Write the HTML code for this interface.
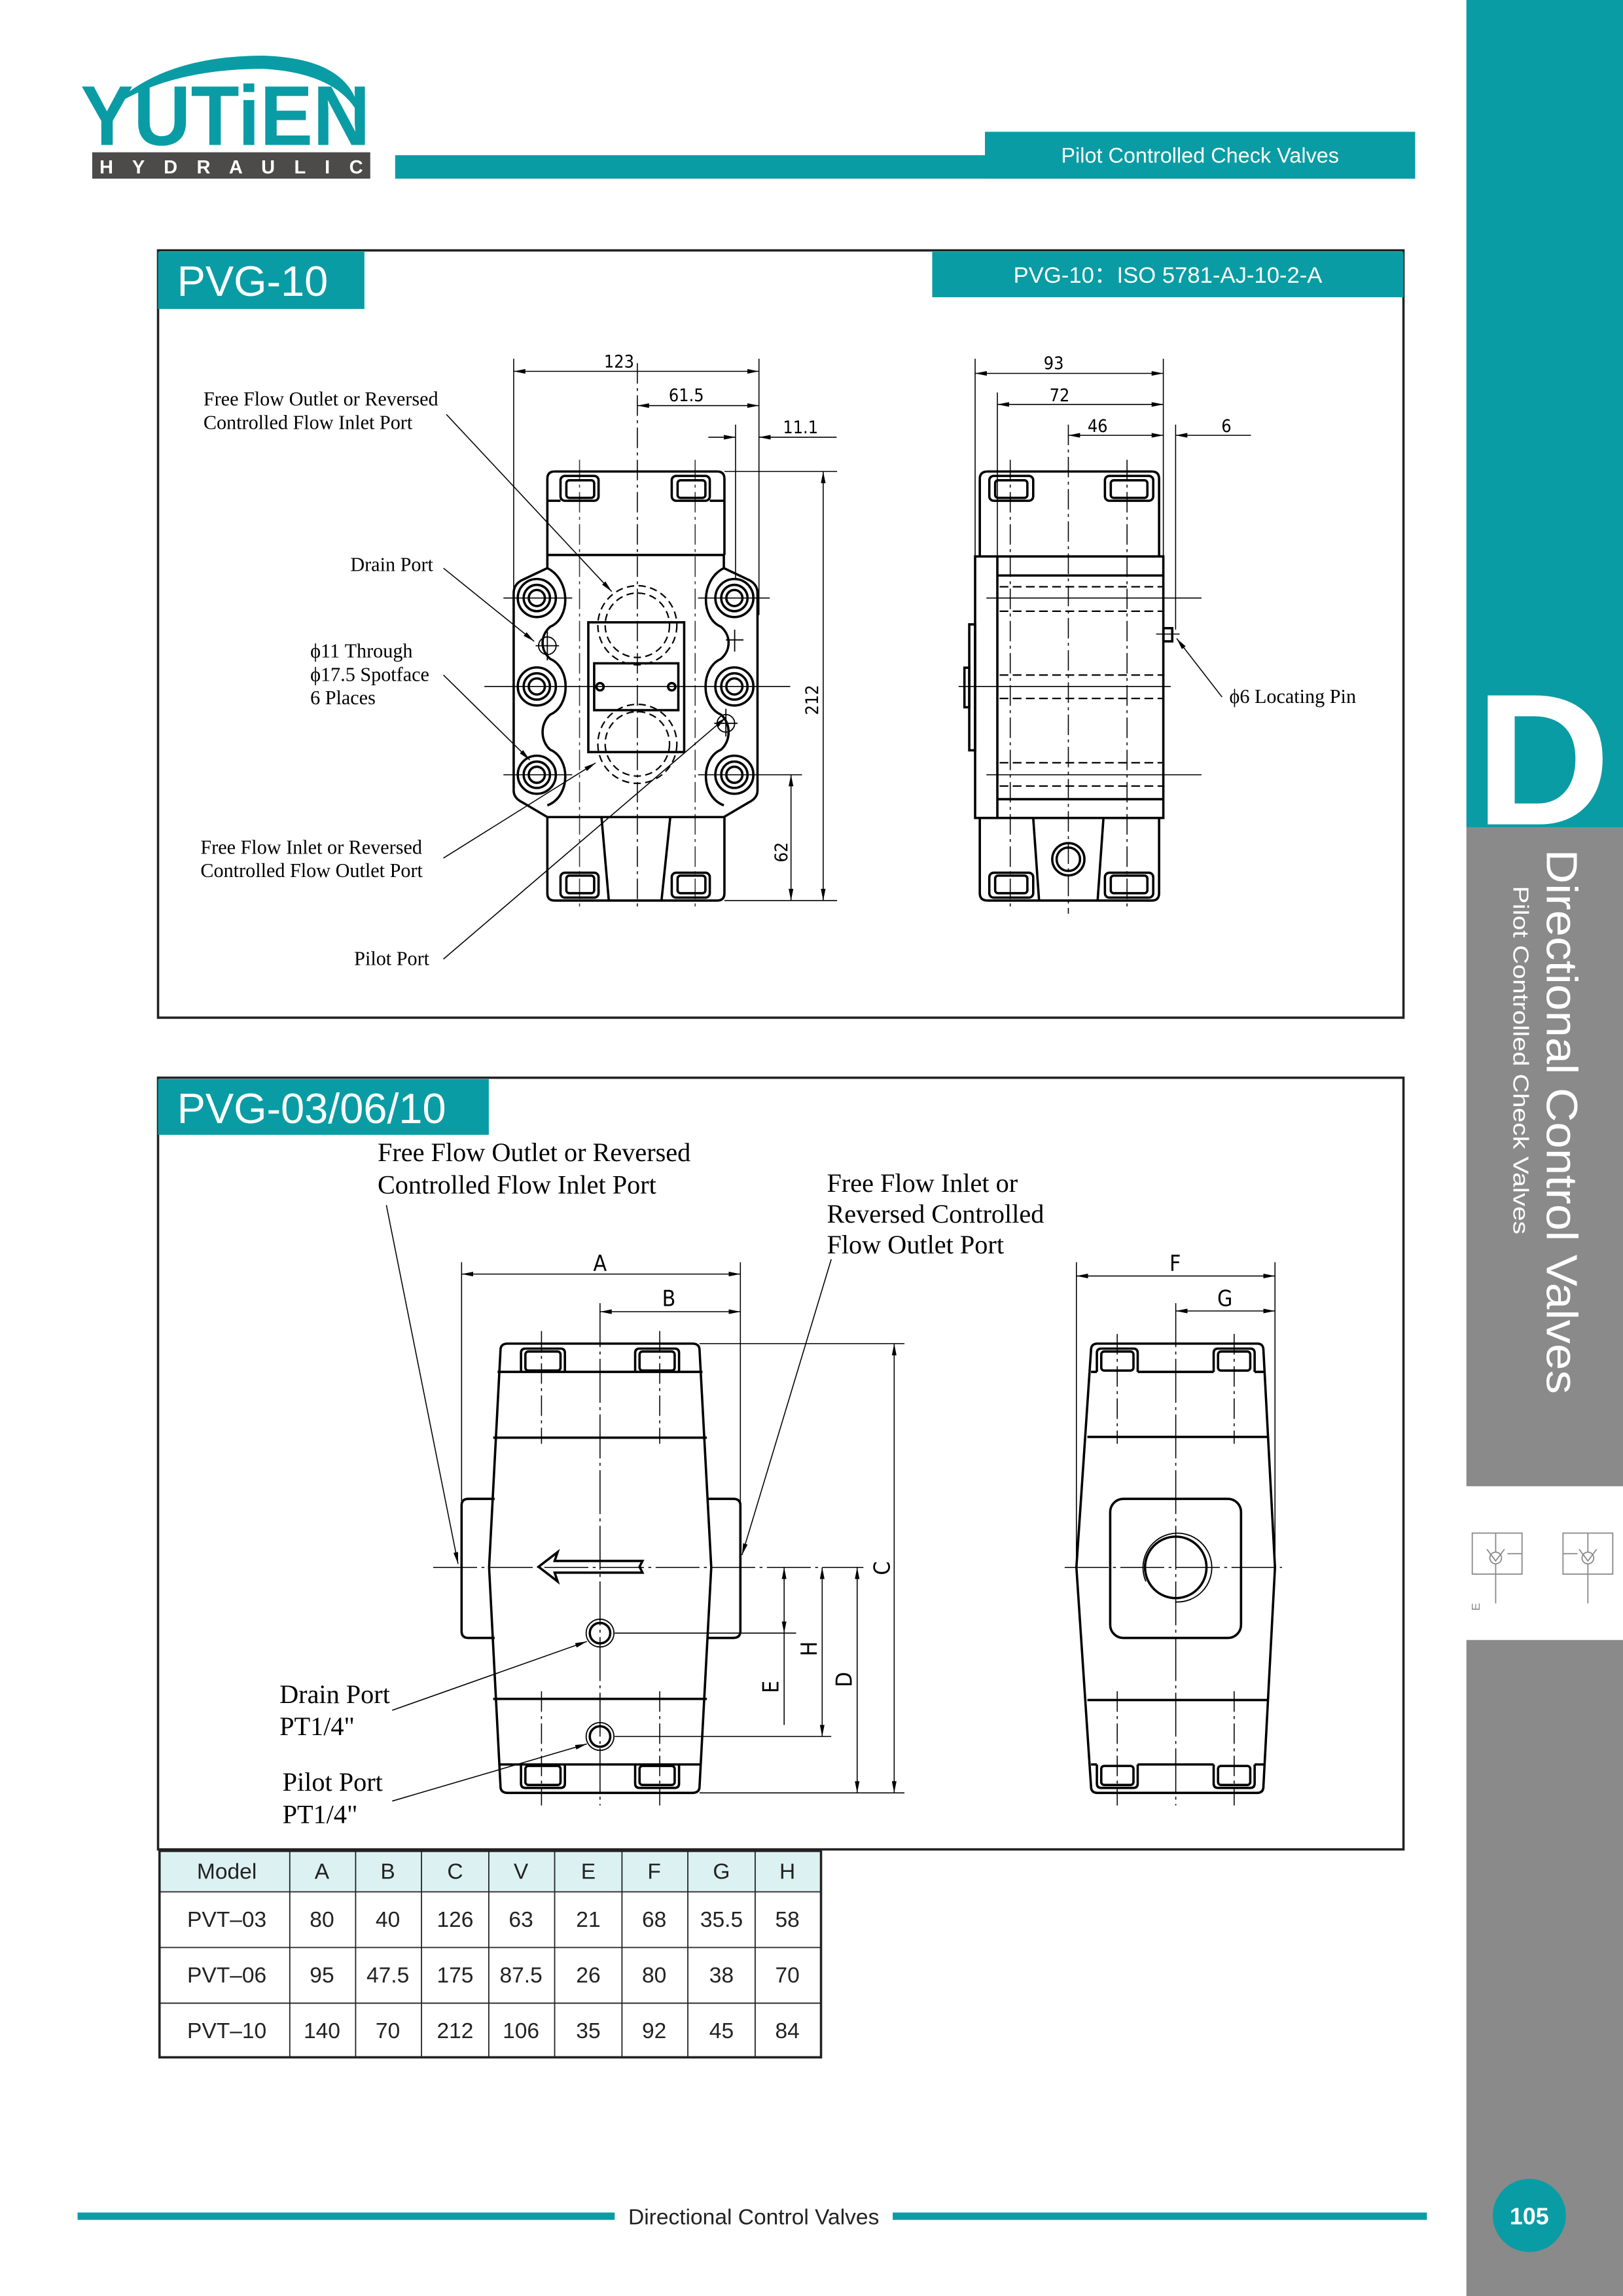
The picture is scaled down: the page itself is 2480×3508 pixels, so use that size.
<!DOCTYPE html>
<html><head><meta charset="utf-8"><style>
html,body{margin:0;padding:0;background:#fff}
svg{display:block}
.s{font-family:"Liberation Sans",sans-serif}
.r{font-family:"Liberation Serif",serif}
.d{font-family:"DejaVu Sans Condensed","DejaVu Sans",sans-serif}
</style></head><body>
<svg width="2480" height="3508" viewBox="0 0 1109 1568" preserveAspectRatio="none" xmlns="http://www.w3.org/2000/svg">
<defs>
<marker id="a" viewBox="0 0 10 4" refX="10" refY="2" markerWidth="8" markerHeight="3.2" markerUnits="userSpaceOnUse" orient="auto-start-reverse"><path d="M0,0 L10,2 L0,4Z" fill="#000"/></marker>
</defs>
<rect width="1109" height="1568" fill="#fff"/>
<!-- sidebar -->
<rect x="1002" y="0" width="107" height="565" fill="#0a9ca5"/>
<rect x="1002" y="565" width="107" height="450" fill="#8a8a8a"/>
<rect x="1002" y="1120" width="107" height="448" fill="#8a8a8a"/>
<text x="1008" y="563" class="s" font-size="128" font-weight="bold" fill="#fff">D</text>
<text class="s" font-size="30" fill="#fff" transform="translate(1057,580) rotate(90)" textLength="372" lengthAdjust="spacingAndGlyphs">Directional Control Valves</text>
<text class="s" font-size="15" fill="#fff" transform="translate(1034,605) rotate(90)" textLength="238" lengthAdjust="spacingAndGlyphs">Pilot Controlled Check Valves</text>
<g stroke="#888" stroke-width="0.8" fill="none">
<rect x="1006" y="1047" width="34" height="28"/><circle cx="1022" cy="1064" r="4"/><path d="M1016,1058 L1022,1066 L1028,1058 M1022,1047 V1060 M1022,1068 V1095 M1040,1061 H1030"/>
<rect x="1068" y="1047" width="34" height="28"/><circle cx="1085" cy="1064" r="4"/><path d="M1079,1058 L1085,1066 L1091,1058 M1085,1047 V1060 M1085,1068 V1095 M1068,1061 H1078"/>
</g>
<text class="s" font-size="8" fill="#888" transform="translate(1011,1100) rotate(-90)">E</text>
<!-- logo -->
<path d="M75,74 Q110,38 180,38 Q242,40 246,80 Q232,50 180,47 Q115,47 75,74Z" fill="#0a9ca5"/>
<text x="55" y="99" class="s" font-size="58" font-weight="bold" fill="#0a9ca5" textLength="198" lengthAdjust="spacingAndGlyphs">YUTiEN</text>
<rect x="63" y="104" width="190" height="18" fill="#4d4a4a"/>
<text x="68" y="118.5" class="s" font-size="13" font-weight="bold" fill="#fff" textLength="180" lengthAdjust="spacing">H Y D R A U L I C</text>
<!-- header bar -->
<rect x="270" y="106" width="697" height="16" fill="#0a9ca5"/>
<rect x="673" y="90" width="294" height="32" fill="#0a9ca5"/>
<text x="820" y="111" class="s" font-size="14.5" fill="#fff" text-anchor="middle">Pilot Controlled Check Valves</text>
<!-- box 1 -->
<rect x="108" y="171" width="851" height="524" fill="none" stroke="#222" stroke-width="1.6"/>
<rect x="108" y="172" width="141" height="39" fill="#0a9ca5"/>
<text x="121" y="202" class="s" font-size="29" fill="#fff">PVG-10</text>
<rect x="637" y="172" width="322" height="31" fill="#0a9ca5"/>
<text x="798" y="193" class="s" font-size="15.5" fill="#fff" text-anchor="middle">PVG-10：ISO 5781-AJ-10-2-A</text>
<!-- box 2 -->
<rect x="108" y="736" width="851" height="527" fill="none" stroke="#222" stroke-width="1.6"/>
<rect x="108" y="737" width="226" height="38" fill="#0a9ca5"/>
<text x="121" y="767" class="s" font-size="29" fill="#fff">PVG-03/06/10</text>

<!-- ===== PVG-10 front view ===== -->
<g stroke="#000" fill="none">
<g stroke-width="1.6">
<path d="M374,379 V327 Q374,322 379,322 H490 Q495,322 495,327 V379"/>
<path d="M374,379 H495"/>
<rect x="383" y="325" width="26" height="17" rx="3"/><rect x="387" y="328" width="19" height="12" rx="2"/>
<rect x="459" y="325" width="26" height="17" rx="3"/><rect x="463" y="328" width="19" height="12" rx="2"/>
<path d="M374,342 H383 M485,342 H495"/>
<path d="M374,558 V610 Q374,615 379,615 H490 Q495,615 495,610 V558 M374,558 H495"/>
<rect x="383" y="596" width="26" height="17" rx="3"/><rect x="387" y="598" width="19" height="12" rx="2"/>
<rect x="459" y="596" width="26" height="17" rx="3"/><rect x="463" y="598" width="19" height="12" rx="2"/>
<path d="M411,558 L416,615 M458,558 L452,615"/>
<g id="fl">
<path d="M374,379 V388 L357,396 Q351,399 351,405 V540 Q351,545 357,548 L374,558"/>
<path d="M374,388 C390,396 390,422 376,428 C369,434 369,444 376,450 C390,456 390,482 376,488 C369,494 369,506 376,512 C390,518 390,544 374,550"/>
<circle cx="366.8" cy="408.4" r="13"/><circle cx="366.8" cy="408.4" r="9"/><circle cx="366.8" cy="408.4" r="5.5"/>
<circle cx="366.8" cy="468.8" r="13"/><circle cx="366.8" cy="468.8" r="9"/><circle cx="366.8" cy="468.8" r="5.5"/>
<circle cx="366.8" cy="529.1" r="13"/><circle cx="366.8" cy="529.1" r="9"/><circle cx="366.8" cy="529.1" r="5.5"/>
</g>
<use href="#fl" transform="translate(868.6,0) scale(-1,1)"/>
<rect x="402" y="425" width="65.5" height="88.6"/>
<rect x="406" y="453" width="57.5" height="32"/>
<circle cx="410" cy="469" r="2.5"/><circle cx="459" cy="469" r="2.5"/>
</g>
<g stroke-width="1" stroke-dasharray="5,3">
<circle cx="435.5" cy="427" r="27"/><circle cx="435.5" cy="427" r="22"/>
<circle cx="435.5" cy="508" r="27"/><circle cx="435.5" cy="508" r="22"/>
</g>
<g stroke-width="0.8">
<circle cx="374" cy="441" r="6"/><path d="M374,431 V451 M366,441 H382"/>
<path d="M502,430 V445 M496,437 H508"/>
<circle cx="496" cy="494" r="6"/><path d="M496,484 V503 M488,494 H504"/>
</g>
<g stroke-width="0.7">
<path d="M435.5,248 V620" stroke-dasharray="14,3,2,3"/>
<path d="M331,468.8 H540"/>
<path d="M344,408.4 H391 M477,408.4 H526 M344,529.1 H391 M477,529.1 H548"/>
<path d="M396,314 V620 M475,314 V620" stroke-dasharray="14,3,2,3" opacity="0.8"/>
<path d="M351,245 V520 M518.6,245 V420 M502.6,290 V395"/>
<path d="M495,322 H572 M495,615 H572"/>
<path d="M351,253.6 H518.6" marker-start="url(#a)" marker-end="url(#a)"/>
<path d="M435.5,277 H518.6" marker-start="url(#a)" marker-end="url(#a)"/>
<path d="M484,298.6 H502.6" marker-end="url(#a)"/><path d="M571.7,298.6 H518.6" marker-end="url(#a)"/>
<path d="M562.5,322 V615" marker-start="url(#a)" marker-end="url(#a)"/>
<path d="M540.5,529 V615" marker-start="url(#a)" marker-end="url(#a)"/>
<path d="M305,283 L418,404" marker-end="url(#a)"/>
<path d="M303,388 L365,438" marker-end="url(#a)"/>
<path d="M303,461 L362,519" marker-end="url(#a)"/>
<path d="M303,586 L407,521" marker-end="url(#a)"/>
<path d="M303,655 L496,490" marker-end="url(#a)"/>
</g>
</g>
<g class="d" font-size="12" fill="#000">
<text x="423" y="251" text-anchor="middle">123</text>
<text x="469" y="274" text-anchor="middle">61.5</text>
<text x="547" y="296" text-anchor="middle">11.1</text>
<text transform="translate(559,478) rotate(-90)" text-anchor="middle">212</text>
<text transform="translate(538,582) rotate(-90)" text-anchor="middle">62</text>
<text x="720" y="252" text-anchor="middle">93</text>
<text x="724" y="274" text-anchor="middle">72</text>
<text x="750" y="295" text-anchor="middle">46</text>
<text x="838" y="295" text-anchor="middle">6</text>
</g>
<g class="r" font-size="13.5" fill="#000">
<text x="139" y="277">Free Flow Outlet or Reversed</text>
<text x="139" y="293">Controlled Flow Inlet Port</text>
<text x="296" y="390" text-anchor="end">Drain Port</text>
<text x="212" y="449">ϕ11 Through</text>
<text x="212" y="465">ϕ17.5 Spotface</text>
<text x="212" y="481">6 Places</text>
<text x="137" y="583">Free Flow Inlet or Reversed</text>
<text x="137" y="599">Controlled Flow Outlet Port</text>
<text x="242" y="659">Pilot Port</text>
<text x="840" y="480">ϕ6 Locating Pin</text>
</g>

<!-- ===== PVG-10 side view ===== -->
<g stroke="#000" fill="none">
<g stroke-width="1.6">
<path d="M669.5,380 V327 Q669.5,322 675,322 H787 Q792,322 792,327 V380"/>
<rect x="676" y="325" width="30" height="17" rx="3"/><rect x="680" y="328" width="22" height="12" rx="2"/>
<rect x="755" y="325" width="33" height="17" rx="3"/><rect x="759" y="328" width="25" height="12" rx="2"/>
<rect x="666.3" y="380" width="128.6" height="178.6"/>
<path d="M681.5,380 V558.6 M681.5,393 H795 M681.5,545.8 H795"/>
<rect x="662.3" y="426.4" width="4" height="86"/>
<rect x="659" y="456" width="3.3" height="27"/>
<rect x="795" y="429" width="6" height="9"/>
<path d="M669.5,558.6 V610 Q669.5,615 675,615 H787 Q792,615 792,610 V558.6"/>
<rect x="676" y="596" width="30" height="17" rx="3"/><rect x="680" y="598" width="22" height="12" rx="2"/>
<rect x="755" y="596" width="33" height="17" rx="3"/><rect x="759" y="598" width="25" height="12" rx="2"/>
<path d="M706,558.6 L710,615 M754,558.6 L750,615"/>
<circle cx="730" cy="586.8" r="11"/><circle cx="730" cy="586.8" r="8"/>
</g>
<g stroke-width="1" stroke-dasharray="6,3">
<path d="M683,400.7 H795 M683,417.4 H795 M683,461 H795 M683,477 H795 M683,520.9 H795 M683,536.8 H795"/>
</g>
<g stroke-width="0.7">
<path d="M674,408.4 H821 M674,529.1 H821 M655,468.8 H800 M790,433 H806"/>
<path d="M730,290 V624 M690.3,314 V620 M770.1,314 V620" stroke-dasharray="14,3,2,3"/>
<path d="M666.3,245 V380 M681.5,268 V380 M794.9,245 V380 M803.3,290 V430"/>
<path d="M666.3,255 H794.9" marker-start="url(#a)" marker-end="url(#a)"/>
<path d="M681.5,276.2 H794.9" marker-start="url(#a)" marker-end="url(#a)"/>
<path d="M730,297.3 H794.9" marker-start="url(#a)" marker-end="url(#a)"/>
<path d="M854.8,297.3 H803.3" marker-end="url(#a)"/>
<path d="M835,476 L804,436" marker-end="url(#a)"/>
</g>
</g>

<!-- ===== lower front view ===== -->
<g stroke="#000" fill="none">
<g stroke-width="1.6">
<path d="M342,922 Q342,917.6 347,917.6 H473 Q478,917.6 478,922 L486,1070.4 L478,1220 Q478,1224.4 473,1224.4 H347 Q342,1224.4 342,1220 L334.2,1070.4 Z"/>
<path d="M340,936.9 H480 M337,981.8 H483 M337,1160.2 H483 M341,1205 H479"/>
<path d="M356,936.9 V924 Q356,921 359,921 H383 Q386,921 386,924 V936.9"/><rect x="359" y="923" width="24" height="13" rx="2"/>
<path d="M434,936.9 V924 Q434,921 437,921 H461 Q464,921 464,924 V936.9"/><rect x="437" y="923" width="24" height="13" rx="2"/>
<path d="M356,1205 V1218 Q356,1221 359,1221 H383 Q386,1221 386,1218 V1205"/><rect x="359" y="1206" width="24" height="13" rx="2"/>
<path d="M434,1205 V1218 Q434,1221 437,1221 H461 Q464,1221 464,1218 V1205"/><rect x="437" y="1206" width="24" height="13" rx="2"/>
<path d="M338,1023.6 H320 Q315.4,1023.6 315.4,1028 V1114 Q315.4,1118.6 320,1118.6 H338"/>
<path d="M484,1023.6 H501 Q505.9,1023.6 505.9,1028 V1114 Q505.9,1118.6 501,1118.6 H484"/>
<path d="M368,1070 L381,1060 L379,1066 H439 L437,1070 L439,1074 H379 L381,1080 Z"/>
<circle cx="410" cy="1115.3" r="7"/><circle cx="410" cy="1185.9" r="7"/>
</g>
<g stroke-width="0.8"><circle cx="410" cy="1115.3" r="9.5"/><circle cx="410" cy="1185.9" r="9.5"/></g>
<g stroke-width="0.7">
<path d="M296,1070.4 H590" stroke-dasharray="30,3,2,3"/>
<path d="M410,890 V1233" stroke-dasharray="30,3,2,3"/>
<path d="M370,909 V986 M450.8,909 V986 M370,1155 V1233 M450.8,1155 V1233" stroke-dasharray="14,3,2,3"/>
<path d="M315.4,862 V1070 M505.9,862 V1065"/>
<path d="M478,917.6 H618 M478,1224.4 H618 M420,1115.3 H544 M420,1185.9 H568"/>
<path d="M315.4,870.1 H505.9" marker-start="url(#a)" marker-end="url(#a)"/>
<path d="M410,895.8 H505.9" marker-start="url(#a)" marker-end="url(#a)"/>
<path d="M611,917.6 V1224.4" marker-start="url(#a)" marker-end="url(#a)"/>
<path d="M585.7,1070.4 V1224.4" marker-start="url(#a)" marker-end="url(#a)"/>
<path d="M561.8,1070.4 V1185.9" marker-start="url(#a)" marker-end="url(#a)"/>
<path d="M535.8,1070.4 V1115.3" marker-start="url(#a)" marker-end="url(#a)"/>
<path d="M535.8,1115.3 V1178"/>
<path d="M264,823 L313,1068" marker-end="url(#a)"/>
<path d="M568,860 L507,1062" marker-end="url(#a)"/>
<path d="M268,1168 L401,1121" marker-end="url(#a)"/>
<path d="M268,1230 L401,1191" marker-end="url(#a)"/>
</g>
</g>
<!-- lower side view -->
<g stroke="#000" fill="none">
<g stroke-width="1.6">
<path d="M745.5,922 Q745.5,917.6 750,917.6 H859 Q863.3,917.6 863.3,922 L871.2,1070.4 L863.3,1220 Q863.3,1224.4 859,1224.4 H750 Q745.5,1224.4 745.5,1220 L735.5,1070.4 Z"/>
<path d="M743,981.3 H866 M743,1161 H866"/>
<path d="M745.5,936.9 H749.5 M777.4,936.9 H829.3 M857.3,936.9 H863.3 M745.5,1205 H749.5 M777.4,1205 H829.3 M857.3,1205 H863.3"/>
<path d="M749.5,936.9 V924 Q749.5,921 752.5,921 H774.4 Q777.4,921 777.4,924 V936.9"/><rect x="752.5" y="923" width="22" height="13" rx="2"/>
<path d="M829.3,936.9 V924 Q829.3,921 832.3,921 H854.3 Q857.3,921 857.3,924 V936.9"/><rect x="832.3" y="923" width="22" height="13" rx="2"/>
<path d="M749.5,1205 V1218 Q749.5,1221 752.5,1221 H774.4 Q777.4,1221 777.4,1218 V1205"/><rect x="752.5" y="1206" width="22" height="13" rx="2"/>
<path d="M829.3,1205 V1218 Q829.3,1221 832.3,1221 H854.3 Q857.3,1221 857.3,1218 V1205"/><rect x="832.3" y="1206" width="22" height="13" rx="2"/>
<rect x="758.6" y="1023.6" width="89.4" height="95" rx="9"/>
<circle cx="803.4" cy="1070.4" r="21"/>
</g>
<path d="M783,1080 A23.5,23.5 0 1 1 803,1094" stroke-width="0.8"/>
<g stroke-width="0.7">
<path d="M727.5,1070.4 H876" stroke-dasharray="30,3,2,3"/>
<path d="M803.4,890 V1233" stroke-dasharray="30,3,2,3"/>
<path d="M763.4,911 V986 M843.3,911 V986 M763.4,1155 V1233 M843.3,1155 V1233" stroke-dasharray="14,3,2,3"/>
<path d="M735.5,862 V1070 M871.2,862 V1070"/>
<path d="M735.5,871.4 H871.2" marker-start="url(#a)" marker-end="url(#a)"/>
<path d="M803.4,895.3 H871.2" marker-start="url(#a)" marker-end="url(#a)"/>
</g>
</g>
<g class="d" font-size="15" fill="#000">
<text x="410" y="868" text-anchor="middle">A</text>
<text x="457" y="892" text-anchor="middle">B</text>
<text x="803" y="868" text-anchor="middle">F</text>
<text x="837" y="892" text-anchor="middle">G</text>
<text transform="translate(608,1071) rotate(-90)" text-anchor="middle">C</text>
<text transform="translate(582,1147) rotate(-90)" text-anchor="middle">D</text>
<text transform="translate(558,1126) rotate(-90)" text-anchor="middle">H</text>
<text transform="translate(532,1152) rotate(-90)" text-anchor="middle">E</text>
</g>
<g class="r" font-size="18" fill="#000">
<text x="258" y="793">Free Flow Outlet or Reversed</text>
<text x="258" y="815">Controlled Flow Inlet Port</text>
<text x="565" y="814">Free Flow Inlet or</text>
<text x="565" y="835">Reversed Controlled</text>
<text x="565" y="856">Flow Outlet Port</text>
<text x="191" y="1163">Drain Port</text>
<text x="191" y="1185">PT1/4"</text>
<text x="193" y="1223">Pilot Port</text>
<text x="193" y="1245">PT1/4"</text>
</g>

<!-- table -->
<rect x="109" y="1264" width="452" height="28" fill="#dcf1f2"/>
<g stroke="#222" stroke-width="0.8" fill="none">
<path d="M109,1292 H561 M109,1330 H561 M109,1368 H561"/>
<path d="M198,1264 V1405 M243,1264 V1405 M288,1264 V1405 M334,1264 V1405 M379,1264 V1405 M425,1264 V1405 M470,1264 V1405 M516,1264 V1405"/>
<rect x="109" y="1264" width="452" height="141" stroke-width="1.6"/>
</g>
<g class="s" font-size="15" fill="#222" text-anchor="middle">
<text x="155" y="1283">Model</text><text x="220" y="1283">A</text><text x="265" y="1283">B</text><text x="311" y="1283">C</text><text x="356" y="1283">V</text><text x="402" y="1283">E</text><text x="447" y="1283">F</text><text x="493" y="1283">G</text><text x="538" y="1283">H</text>
<text x="155" y="1316">PVT–03</text><text x="220" y="1316">80</text><text x="265" y="1316">40</text><text x="311" y="1316">126</text><text x="356" y="1316">63</text><text x="402" y="1316">21</text><text x="447" y="1316">68</text><text x="493" y="1316">35.5</text><text x="538" y="1316">58</text>
<text x="155" y="1354">PVT–06</text><text x="220" y="1354">95</text><text x="265" y="1354">47.5</text><text x="311" y="1354">175</text><text x="356" y="1354">87.5</text><text x="402" y="1354">26</text><text x="447" y="1354">80</text><text x="493" y="1354">38</text><text x="538" y="1354">70</text>
<text x="155" y="1392">PVT–10</text><text x="220" y="1392">140</text><text x="265" y="1392">70</text><text x="311" y="1392">212</text><text x="356" y="1392">106</text><text x="402" y="1392">35</text><text x="447" y="1392">92</text><text x="493" y="1392">45</text><text x="538" y="1392">84</text>
</g>

<!-- footer -->
<rect x="53" y="1511" width="367" height="5" fill="#0a9ca5"/>
<rect x="610" y="1511" width="365" height="5" fill="#0a9ca5"/>
<text x="515" y="1519" class="s" font-size="15" fill="#222" text-anchor="middle">Directional Control Valves</text>
<circle cx="1045" cy="1513" r="25" fill="#0a9ca5"/>
<text x="1045" y="1519" class="s" font-size="16" font-weight="bold" fill="#fff" text-anchor="middle">105</text>
</svg>
</body></html>
